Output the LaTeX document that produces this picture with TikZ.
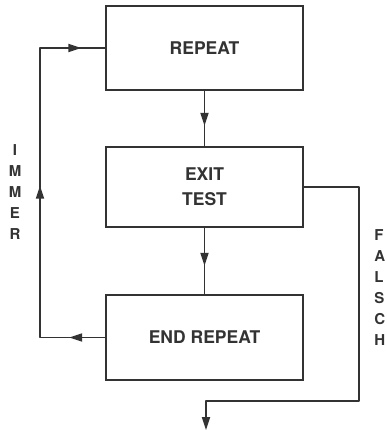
\documentclass[tikz,border=0pt]{standalone}
\usepackage{fontspec}
\setmainfont{TeX Gyre Heros}
\usetikzlibrary{arrows.meta,decorations.markings}
\tikzset{
  flow/.tip={Triangle[length=13pt,width=8pt]},
  block/.style={draw, minimum width=197pt, inner sep=0pt, align=center,
    font=\bfseries\fontsize{17.5}{25}\selectfont},
  letter/.style={inner sep=0pt, font=\bfseries\fontsize{15}{15}\selectfont},
  tipat/.style={postaction={decorate, decoration={markings,
    mark=at position #1 with {\arrow{flow}}}}},
}
\begin{document}
\begin{tikzpicture}[x=1pt, y=-1pt, line width=1.8pt, color=black!80]
\useasboundingbox (0,0) rectangle (386,430);
% the three blocks
\node[block, minimum height=84pt] (repeat) at (204.5,48) {REPEAT};
\node[block, minimum height=80pt] (exit) at (204.5,187) {EXIT\\TEST};
\node[block, minimum height=85pt] (endrep) at (204.5,337.5) {END REPEAT};
% straight flow
\draw[tipat=35pt] (repeat.south) -- (exit.north);
\draw[tipat=38pt] (exit.south) -- (endrep.north);
% loop back
\coordinate (lb) at (40,337.5);
\coordinate (lt) at (40,48);
\draw[line join=round, tipat=36pt, tipat=217pt, tipat=396pt]
  (endrep.west) -- (lb) -- (lt) -- (repeat.west);
% leave the loop
\coordinate (rt) at (359,187);
\coordinate (rb) at (359,401);
\coordinate (ob) at (206,401);
\coordinate (out) at (206,430);
\draw[line join=round, -{flow}] (exit.east) -- (rt) -- (rb) -- (ob) -- (out);
% side labels
\foreach \ch [count=\i] in {I,M,M,E,R}
  \node[letter] (immer\i) at (15,129+21*\i) {\ch};
\foreach \ch [count=\i] in {F,A,L,S,C,H}
  \node[letter, anchor=west] (falsch\i) at (373.5,214+21*\i) {\ch};
\end{tikzpicture}
\end{document}
